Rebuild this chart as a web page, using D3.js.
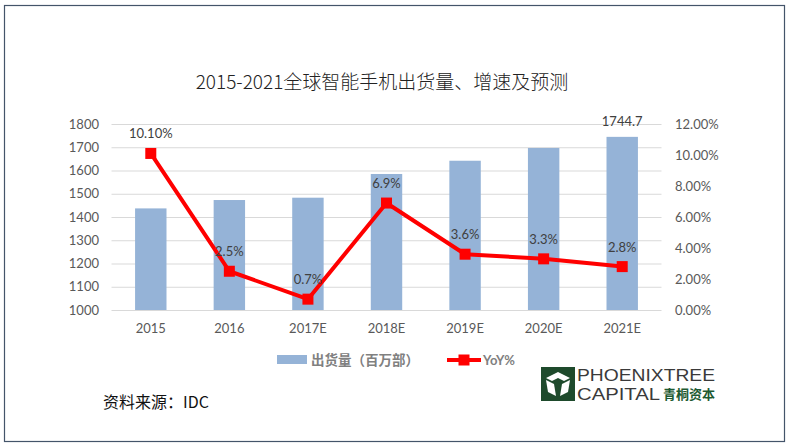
<!DOCTYPE html>
<html><head><meta charset="utf-8">
<script src="https://cdn.jsdelivr.net/npm/d3@7/dist/d3.min.js"></script>
<style>body{margin:0;background:#fff;}svg{display:block;}</style>
</head><body>
<svg id="c" width="790" height="446"></svg>
<script>
const categories = ["2015","2016","2017E","2018E","2019E","2020E","2021E"];
const shipments = [1437, 1473, 1483, 1585, 1642, 1697, 1744.7];
const yoy = [10.1, 2.5, 0.7, 6.9, 3.6, 3.3, 2.8];
const yoyLabels = ["10.10%","2.5%","0.7%","6.9%","3.6%","3.3%","2.8%"];
const leftTicks = [1000,1100,1200,1300,1400,1500,1600,1700,1800];
const rightTicks = [0,2,4,6,8,10,12];
const title = "2015-2021全球智能手机出货量、增速及预测";
const legendBar = "出货量（百万部）";
const legendLine = "YoY%";
const source = "资料来源：IDC";

const svg = d3.select("#c");
const numFont = "Lato, 'Liberation Sans', sans-serif";
const cjkFont = "'Noto Sans CJK SC', 'Noto Sans', sans-serif";

// border
svg.append("rect").attr("x",4.5).attr("y",5.5).attr("width",780).attr("height",436)
  .attr("fill","#fff").attr("stroke","#44546a").attr("stroke-width",1.2);

// title
svg.append("text").attr("x",382).attr("y",89).attr("text-anchor","middle")
  .attr("font-family",cjkFont).attr("font-size",19).attr("font-weight",300).attr("fill","#222").text(title);

const x = d3.scaleBand().domain(categories).range([111.5,661.5]).paddingInner(0.6).paddingOuter(0.3);
const yL = d3.scaleLinear().domain([1000,1800]).range([310,124]);
const yR = d3.scaleLinear().domain([0,12]).range([310,124]);

// gridlines
svg.append("g").selectAll("line").data(leftTicks).join("line")
  .attr("x1",111.5).attr("x2",661.5).attr("y1",d=>yL(d)+0.5).attr("y2",d=>yL(d)+0.5)
  .attr("stroke","#d9d9d9").attr("stroke-width",1);

// left axis
const gl = svg.append("g").attr("transform","translate(99,0)")
  .call(d3.axisLeft(yL).tickValues(leftTicks).tickSize(0).tickPadding(0).tickFormat(d3.format("d")));
gl.select(".domain").remove();
gl.selectAll("text").attr("font-family",numFont).attr("font-size",13).attr("fill","#595959");

// right axis
const gr = svg.append("g").attr("transform","translate(675,0)")
  .call(d3.axisRight(yR).tickValues(rightTicks).tickSize(0).tickPadding(0).tickFormat(d=>d3.format(".2f")(d)+"%"));
gr.select(".domain").remove();
gr.selectAll("text").attr("font-family",numFont).attr("font-size",13).attr("fill","#595959");

// bottom axis
const gb = svg.append("g").attr("transform","translate(0,310)")
  .call(d3.axisBottom(x).tickSize(0).tickPadding(14));
gb.select(".domain").remove();
gb.selectAll("text").attr("font-family",numFont).attr("font-size",13).attr("fill","#595959");

// bars
svg.append("g").selectAll("rect").data(shipments).join("rect")
  .attr("x",(d,i)=>x(categories[i])).attr("width",x.bandwidth())
  .attr("y",d=>yL(d)).attr("height",d=>yL(1000)-yL(d)).attr("fill","#95b3d7");

// bar label for last
svg.append("text").attr("x",x(categories[6])+x.bandwidth()/2).attr("y",yL(shipments[6])-11)
  .attr("text-anchor","middle").attr("font-family",numFont).attr("font-size",13).attr("fill","#404040").text("1744.7");

// line
const line = d3.line().x((d,i)=>x(categories[i])+x.bandwidth()/2).y(d=>yR(d));
svg.append("path").datum(yoy).attr("d",line).attr("fill","none").attr("stroke","#ff0000")
  .attr("stroke-width",4).attr("stroke-linejoin","round");
svg.append("g").selectAll("rect").data(yoy).join("rect")
  .attr("x",(d,i)=>x(categories[i])+x.bandwidth()/2-5.5).attr("y",d=>yR(d)-5.5)
  .attr("width",11).attr("height",11).attr("fill","#ff0000");

// yoy labels
svg.append("g").selectAll("text").data(yoy).join("text")
  .attr("x",(d,i)=>x(categories[i])+x.bandwidth()/2).attr("y",d=>yR(d)-15)
  .attr("text-anchor","middle").attr("font-family",numFont).attr("font-size",13).attr("fill","#404040")
  .text((d,i)=>yoyLabels[i]);

// legend
svg.append("rect").attr("x",277).attr("y",355).attr("width",30).attr("height",9).attr("fill","#95b3d7");
svg.append("text").attr("x",311).attr("y",365).attr("font-family",cjkFont).attr("font-size",13.5)
  .attr("font-weight",700).attr("fill","#808080").text(legendBar);
svg.append("line").attr("x1",447).attr("x2",481).attr("y1",360).attr("y2",360).attr("stroke","#ff0000").attr("stroke-width",4);
svg.append("rect").attr("x",458.5).attr("y",354.5).attr("width",11).attr("height",11).attr("fill","#ff0000");
svg.append("text").attr("x",483).attr("y",365).attr("font-family",numFont).attr("font-size",13)
  .attr("font-weight",700).attr("fill","#808080").text(legendLine);

// source
svg.append("text").attr("x",103).attr("y",408).attr("font-family",cjkFont).attr("font-size",16)
  .attr("fill","#111").text(source);

// logo
const lg = svg.append("g").attr("transform","translate(541,367)");
lg.append("rect").attr("width",34).attr("height",34).attr("fill","#1e4a2c");
lg.append("path").attr("d","M17 5 L29 11 L23 14 L17 11 L11 14 L5 11 Z").attr("fill","#fff");
lg.append("path").attr("d","M5 13 L13 17 L15 29 L7 25 Z").attr("fill","#fff");
lg.append("path").attr("d","M29 13 L21 17 L19 29 L27 25 Z").attr("fill","#fff");
svg.append("text").attr("x",577).attr("y",381).attr("font-family","'Liberation Sans Narrow','Liberation Sans',sans-serif")
  .attr("font-size",16).attr("textLength",138).attr("lengthAdjust","spacingAndGlyphs").attr("fill","#3a3a3a").text("PHOENIXTREE");
svg.append("text").attr("x",577).attr("y",400).attr("font-family","'Liberation Sans Narrow','Liberation Sans',sans-serif")
  .attr("font-size",16).attr("textLength",83).attr("lengthAdjust","spacingAndGlyphs").attr("fill","#3a3a3a").text("CAPITAL");
svg.append("text").attr("x",663).attr("y",399).attr("font-family",cjkFont)
  .attr("font-size",13).attr("font-weight",700).attr("fill","#1e5a32").text("青桐资本");
</script>
</body></html>
